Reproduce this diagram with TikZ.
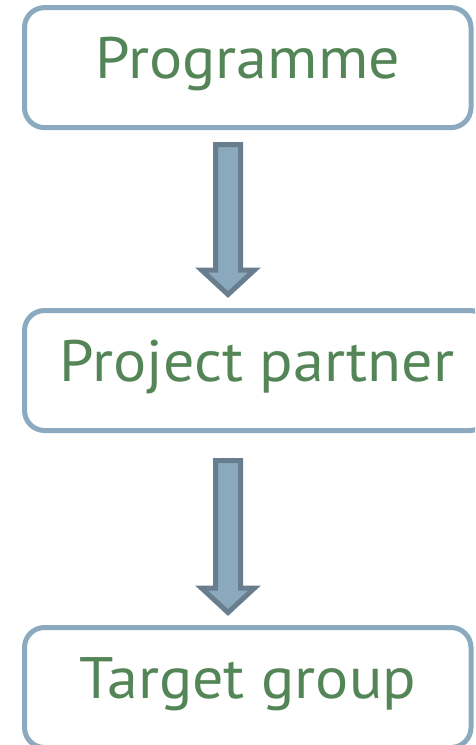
\documentclass[tikz,border=0pt]{standalone}
\usepackage{fontspec}
\setmainfont{PT Sans}[FakeStretch=1.06]
\usetikzlibrary{calc}
\definecolor{boxblue}{HTML}{8BAABF}
\definecolor{arrowfill}{HTML}{8AA9BD}
\definecolor{arrowline}{HTML}{687E8E}
\definecolor{textgreen}{HTML}{538557}
\tikzset{
  stagebox/.style={draw=boxblue, line width=5pt, rounded corners=20pt, fill=white,
    text=textgreen, font=\fontsize{58.5}{60}\selectfont, minimum height=120pt,
    text height=21pt, text depth=0pt, inner sep=0pt},
  blockarrow/.style={draw=arrowline, fill=arrowfill, line width=5pt, line join=miter},
}
% block arrow from top point #1 down to tip #2
\newcommand\downblock[2]{%
  \draw[blockarrow] ($(#1)+(-12.5,0)$) -- ($(#1)+(12.5,0)$) -- ($(#2)+(12.5,-24.5)$)
    -- ($(#2)+(26.5,-24.5)$) -- (#2) -- ($(#2)+(-26.5,-24.5)$)
    -- ($(#2)+(-12.5,-24.5)$) -- cycle;}
\begin{document}
\begin{tikzpicture}[x=1pt,y=-1pt]
\clip (0,0) rectangle (475,745);
\node[stagebox, minimum width=446.5pt] (prog) at (247.75,67.6) {Programme};
\node[stagebox, minimum width=465.5pt] (partner) at (257.25,370.5) {Project partner};
\node[stagebox, minimum width=446.5pt] (target) at (247.75,687.5) {Target group};
\coordinate (a1top) at (228,144.5);
\coordinate (a1tip) at (228,294.5);
\coordinate (a2top) at (228,460.5);
\coordinate (a2tip) at (228,612.5);
\downblock{a1top}{a1tip}
\downblock{a2top}{a2tip}
\end{tikzpicture}
\end{document}
